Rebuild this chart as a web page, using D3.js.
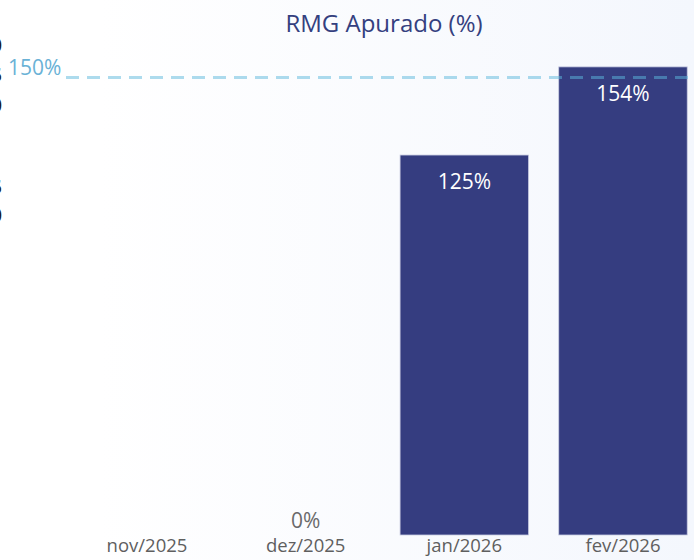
<!DOCTYPE html>
<html>
<head>
<meta charset="utf-8">
<script src="https://cdn.jsdelivr.net/npm/d3@7"></script>
<style>
  html, body { margin: 0; padding: 0; background: #fff; }
  svg { display: block; font-family: "Open Sans", "Noto Sans", sans-serif; }
</style>
</head>
<body>
<svg id="chart" width="694" height="560"></svg>
<script>
// data
var months = ["nov/2025", "dez/2025", "jan/2026", "fev/2026"];
var rmgValues = [null, 0, 125, 154];
var targetValue = 150;
var titleText = "RMG Apurado (%)";
// cut-off characters from the neighbouring visual at the left edge
var edgeChars = ["0", "5", "0", "5", "0"];
var edgeY = [52, 82, 112, 194, 222];

var W = 694, H = 560;
var svg = d3.select("#chart");

// soft background gradient
var defs = svg.append("defs");
var grad = defs.append("linearGradient")
    .attr("id", "bg")
    .attr("x1", "0").attr("x2", "1").attr("y1", "0").attr("y2", "0");
grad.append("stop").attr("offset", "0").attr("stop-color", "#ffffff");
grad.append("stop").attr("offset", "1").attr("stop-color", "#f4f7fd");

svg.append("rect")
    .attr("x", 100).attr("y", 0)
    .attr("width", W - 100).attr("height", H)
    .attr("fill", "url(#bg)");

var x = d3.scaleBand()
    .domain(months)
    .range([67.7, 702.3])
    .paddingInner(0.19)
    .paddingOuter(0.095);

var y = d3.scaleLinear()
    .domain([0, 176])
    .range([535, 0]);

// title
svg.append("text")
    .attr("x", 384).attr("y", 32)
    .attr("text-anchor", "middle")
    .attr("fill", "#34407f")
    .style("font-size", "24px")
    .text(titleText);

// left edge fragments
svg.selectAll("text.edge")
    .data(edgeChars)
    .enter().append("text")
    .attr("class", "edge")
    .attr("x", 2)
    .attr("y", function (d, i) { return edgeY[i]; })
    .attr("text-anchor", "end")
    .attr("fill", "#1a1a1a")
    .style("font-size", "20px")
    .style("font-weight", "bold")
    .text(function (d) { return d; });

var data = months.map(function (m, i) { return { month: m, value: rmgValues[i] }; });

// bars
svg.selectAll("rect.bar")
    .data(data.filter(function (d) { return d.value > 0; }))
    .enter().append("rect")
    .attr("class", "bar")
    .attr("x", function (d) { return x(d.month); })
    .attr("y", function (d) { return y(d.value); })
    .attr("width", x.bandwidth())
    .attr("height", function (d) { return y(0) - y(d.value); })
    .attr("fill", "#353d80")
    .attr("stroke", "#c9cde2")
    .attr("stroke-width", 0.8);

// target line
svg.append("line")
    .attr("x1", 66).attr("x2", W)
    .attr("y1", y(targetValue) - 1.5).attr("y2", y(targetValue) - 1.5)
    .attr("stroke", "#5bb8dc")
    .attr("stroke-opacity", 0.5)
    .attr("stroke-width", 3)
    .attr("stroke-dasharray", "13,8");

svg.append("text")
    .attr("x", 8).attr("y", y(targetValue) - 4)
    .attr("fill", "#6ab2d6")
    .style("font-size", "21px")
    .text(targetValue + "%");

// value labels
svg.selectAll("text.val")
    .data(data.filter(function (d) { return d.value !== null; }))
    .enter().append("text")
    .attr("class", "val")
    .attr("x", function (d) { return x(d.month) + x.bandwidth() / 2; })
    .attr("y", function (d) { return d.value > 0 ? y(d.value) + 34 : y(0) - 7; })
    .attr("text-anchor", "middle")
    .attr("fill", function (d) { return d.value > 0 ? "#ffffff" : "#6a6a6a"; })
    .style("font-size", "21px")
    .text(function (d) { return d.value + "%"; });

// x axis labels
var xAxis = svg.append("g")
    .attr("transform", "translate(0," + 535 + ")")
    .call(d3.axisBottom(x).tickSize(0).tickPadding(4));
xAxis.select(".domain").remove();
xAxis.selectAll("text")
    .attr("fill", "#5f5f5f")
    .style("font-family", "\"Open Sans\", \"Noto Sans\", sans-serif")
    .style("font-size", "18.5px");
</script>
</body>
</html>
